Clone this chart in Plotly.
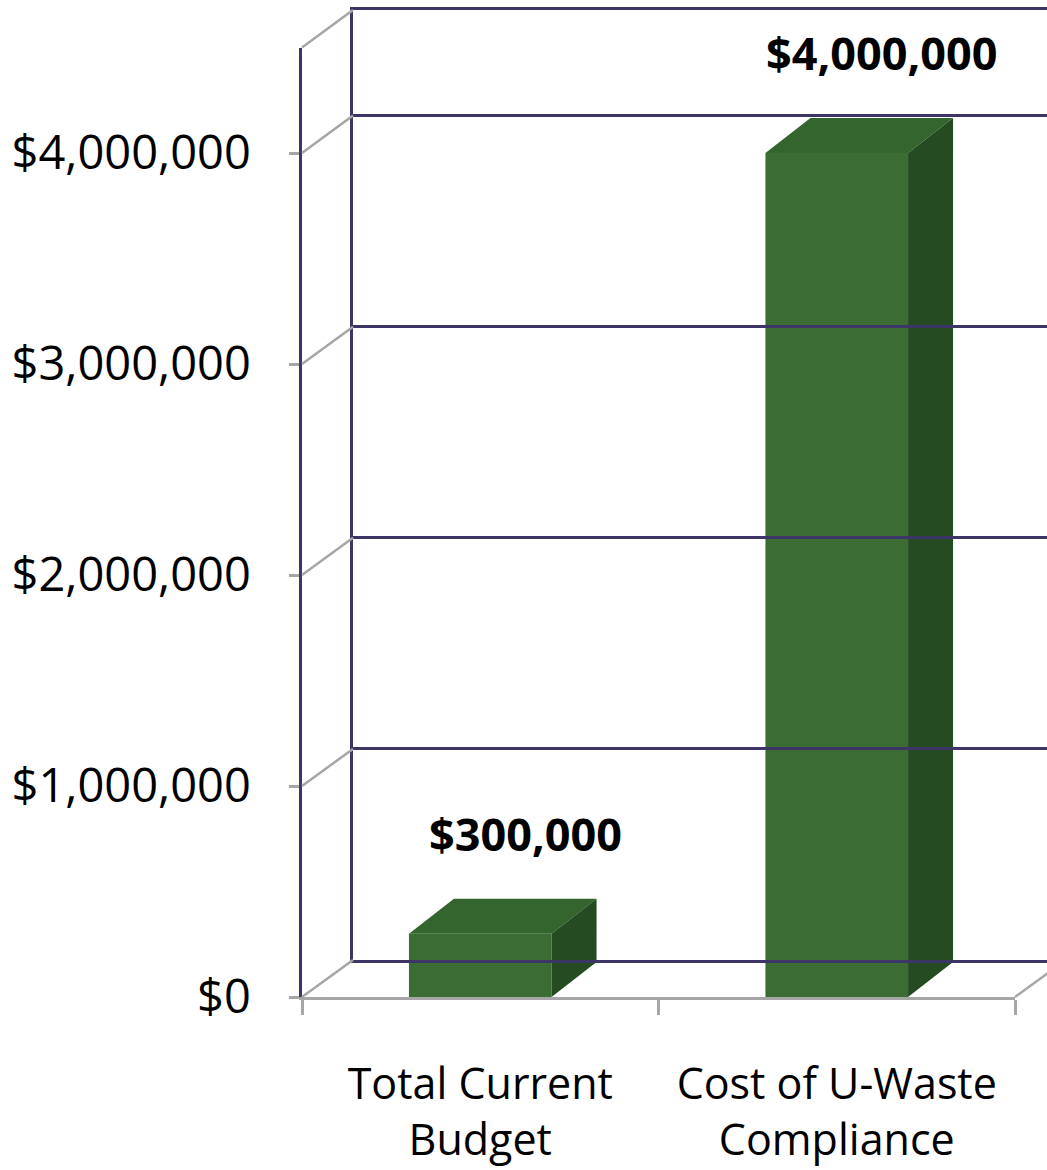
import plotly.graph_objects as go

# ---- data ----
categories = ["Total Current<br>Budget", "Cost of U-Waste<br>Compliance"]
values = [300000, 4000000]
value_labels = ["$300,000", "$4,000,000"]
tick_values = [0, 1000000, 2000000, 3000000, 4000000]
tick_labels = ["$0", "$1,000,000", "$2,000,000", "$3,000,000", "$4,000,000"]

# ---- layout geometry (pixels) ----
W, H = 1047, 1170
FX0, FX1 = 302, 1015          # front plane x extent
FY0, FYTOP = 997, 47.5        # front plane: zero and top (y pixel)
BX0 = 353                     # back wall left
BY0, BYTOP = 960, 10          # back wall zero / top
YMAX = 4500000

def px(x):
    return x / W

def py(y):
    return 1 - y / H

GRID = "#3d3566"
GRAY = "#a6a6a6"
FRONT = "#3b6c33"
TOP = "#35652f"
SIDE = "#244b22"

BAR_W = 0.40
DX = 45 / ((FX1 - FX0) / 2)             # depth offset in category units
DY = 35 / ((FY0 - FYTOP) / YMAX)        # depth offset in value units

fig = go.Figure()

# front faces
fig.add_trace(go.Bar(x=[0, 1], y=values, width=BAR_W, marker=dict(color=FRONT, line=dict(width=0)),
                     xaxis="x", yaxis="y", hoverinfo="skip"))

# top and side faces (derived from values via the front axes)
for i, v in enumerate(values):
    l, r = i - BAR_W / 2, i + BAR_W / 2
    fig.add_trace(go.Scatter(x=[l, l + DX, r + DX, r, l], y=[v, v + DY, v + DY, v, v],
                             fill="toself", fillcolor=TOP, mode="lines", line=dict(width=0, color=TOP),
                             xaxis="x", yaxis="y", hoverinfo="skip"))
    fig.add_trace(go.Scatter(x=[r, r + DX, r + DX, r, r], y=[v, v + DY, DY, 0, v],
                             fill="toself", fillcolor=SIDE, mode="lines", line=dict(width=0, color=SIDE),
                             xaxis="x", yaxis="y", hoverinfo="skip"))

# invisible trace on back axes to activate them
fig.add_trace(go.Scatter(x=[0, 1], y=[None, None], xaxis="x2", yaxis="y2", mode="lines",
                         showlegend=False, hoverinfo="skip"))

# data labels
for i, (v, t) in enumerate(zip(values, value_labels)):
    fig.add_annotation(x=i + DX, y=v, xref="x", yref="y", text=t, showarrow=False, yshift=100,
                       font=dict(family="Open Sans", size=45, color="#000000", weight="bold"))

# side wall diagonals (left) and floor right edge
shapes = []
front_scale = (FY0 - FYTOP) / YMAX
back_scale = (BY0 - BYTOP) / YMAX
for v in tick_values + [YMAX]:
    y_f = FY0 - v * front_scale
    y_b = BY0 - v * back_scale
    shapes.append(dict(type="line", xref="paper", yref="paper", x0=px(FX0), y0=py(y_f), x1=px(BX0), y1=py(y_b),
                       line=dict(color=GRAY, width=2.5), layer="above"))
shapes.append(dict(type="line", xref="paper", yref="paper", x0=px(FX1), y0=py(FY0), x1=px(FX1 + (BX0 - FX0)),
                   y1=py(BY0), line=dict(color=GRAY, width=2.5)))
fig.update_layout(shapes=shapes)

fig.update_layout(
    width=W, height=H,
    margin=dict(l=0, r=0, t=0, b=0, autoexpand=False),
    paper_bgcolor="white", plot_bgcolor="rgba(0,0,0,0)",
    showlegend=False,
    xaxis=dict(domain=[px(FX0), px(FX1)], range=[-0.5, 1.5], tickmode="array", tickvals=[0, 1],
               ticktext=categories, showgrid=False, zeroline=False, showline=True, linecolor=GRAY,
               linewidth=2.5, ticks="", ticklabelstandoff=48, automargin=False,
               minor=dict(ticks="outside", tick0=0.5, dtick=1, ticklen=15, tickcolor=GRAY, tickwidth=2.5,
                          showgrid=False),
               tickfont=dict(family="Open Sans", size=43, color="#000000"), fixedrange=True),
    yaxis=dict(domain=[py(FY0), py(FYTOP)], range=[0, YMAX], tickmode="array", tickvals=tick_values,
               ticktext=tick_labels, showgrid=False, zeroline=False, showline=True, linecolor=GRID,
               linewidth=2.5, ticks="outside", ticklen=10, tickcolor=GRAY, tickwidth=2.5,
               ticklabelstandoff=29, automargin=False,
               tickfont=dict(family="Open Sans", size=47, color="#000000"), fixedrange=True),
    xaxis2=dict(domain=[px(BX0), 1.0], range=[0, 1], anchor="y2", showgrid=False, zeroline=False,
                showticklabels=False, showline=True, mirror=True, linecolor=GRID, linewidth=3,
                fixedrange=True, layer="below traces", automargin=False),
    yaxis2=dict(domain=[py(BY0), py(BYTOP)], range=[0, YMAX], anchor="x2", dtick=1000000,
                showgrid=True, gridcolor=GRID, gridwidth=3, zeroline=False, showticklabels=False,
                showline=True, linecolor=GRID, linewidth=3, fixedrange=True, layer="below traces",
                automargin=False),
)

post = ("document.documentElement.style.margin='0';document.body.style.margin='0';"
        "document.documentElement.style.overflow='hidden';document.body.style.overflow='hidden';"
        "var gd=document.getElementById('{plot_id}');gd.style.position='fixed';gd.style.top='0';gd.style.left='0';")
fig.write_html("out.html", post_script=post, config={"displayModeBar": False})
